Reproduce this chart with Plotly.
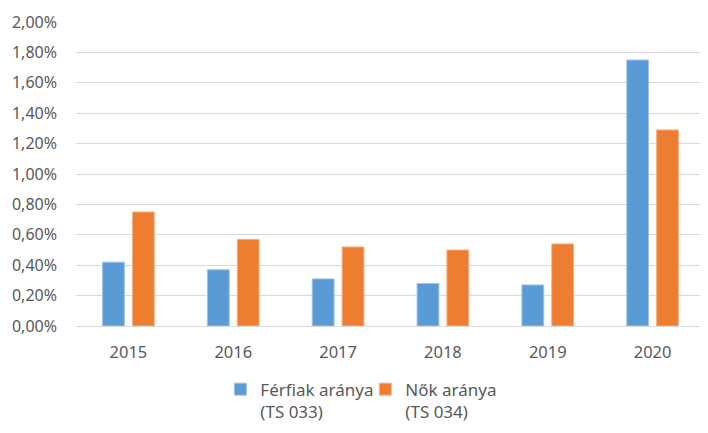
import plotly.graph_objects as go

years = ["2015", "2016", "2017", "2018", "2019", "2020"]
ferfiak = [0.0042, 0.0037, 0.0031, 0.0028, 0.0027, 0.0175]
nok = [0.0075, 0.0057, 0.0052, 0.0050, 0.0054, 0.0129]
y_ticks = [0, 0.002, 0.004, 0.006, 0.008, 0.010, 0.012, 0.014, 0.016, 0.018, 0.020]

fig = go.Figure()
fig.add_trace(go.Bar(x=years, y=ferfiak, name="Férfiak aránya<br>(TS 033)",
                     marker=dict(color="#5B9BD5", line=dict(color="#9DC3E6", width=1))))
fig.add_trace(go.Bar(x=years, y=nok, name="Nők aránya<br>(TS 034)",
                     marker=dict(color="#ED7D31", line=dict(color="#F4B183", width=1))))

# page body adds an 8px offset, so the figure is sized/positioned to compensate
fig.update_layout(
    width=700, height=425,
    margin=dict(l=68, r=3, t=14, b=107, autoexpand=False),
    paper_bgcolor="white", plot_bgcolor="white",
    separators=", ",
    barmode="group", bargap=0.43, bargroupgap=0.27,
    font=dict(family="Noto Sans", size=15, color="#595959"),
    xaxis=dict(showgrid=False, showline=True, linecolor="#d9d9d9", linewidth=1,
               ticks="", tickfont=dict(size=16.5), ticklabelstandoff=11, automargin=False),
    yaxis=dict(range=[0, 0.02], tickvals=y_ticks, tickformat=".2%",
               showgrid=True, gridcolor="#d9d9d9", gridwidth=1, zeroline=False,
               tickfont=dict(size=16), ticklabelstandoff=18, automargin=False),
    legend=dict(orientation="h", x=0.46, xanchor="center", y=-0.15, yanchor="top",
                valign="top", font=dict(size=17, color="#595959"),
                itemwidth=30, entrywidth=100, entrywidthmode="pixels",
                traceorder="normal"),
    showlegend=True,
)

fig.write_html("out.html")
